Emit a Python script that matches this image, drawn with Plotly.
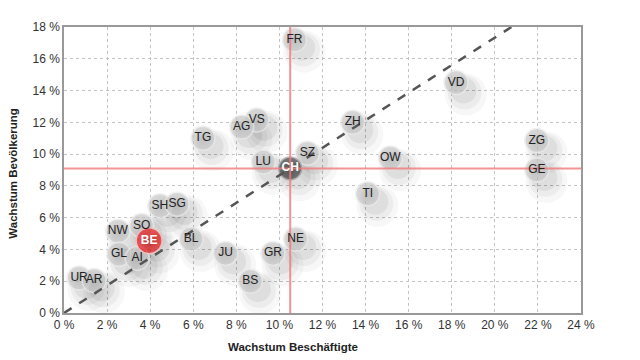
import plotly.graph_objects as go

cantons = ["FR", "VD", "ZH", "VS", "AG", "TG", "ZG", "SZ", "OW", "LU", "GE", "TI",
           "SH", "SG", "SO", "NW", "BL", "NE", "GL", "AI", "JU", "GR", "UR", "AR", "BS", "BE", "CH"]
beschaeftigte = [10.7, 18.2, 13.4, 8.95, 8.25, 6.45, 21.95, 11.3, 15.15, 9.25, 21.95, 14.1,
                 4.45, 5.25, 3.6, 2.5, 5.9, 10.75, 2.55, 3.4, 7.5, 9.7, 0.7, 1.4, 8.65, 3.95, 10.5]
bevoelkerung = [17.2, 14.5, 12.0, 12.15, 11.7, 11.0, 10.85, 10.05, 9.75, 9.5, 9.0, 7.5,
                6.75, 6.85, 5.5, 5.15, 4.65, 4.65, 3.7, 3.45, 3.75, 3.75, 2.2, 2.05, 2.0, 4.55, 9.1]

x_ticks = list(range(0, 25, 2))
y_ticks = list(range(0, 19, 2))

ch_i = cantons.index("CH")
ch_x, ch_y = beschaeftigte[ch_i], bevoelkerung[ch_i]

colors = []
edge_colors = []
line_colors = []
text_colors = []
sizes = []
labels = []
for c in cantons:
    if c == "BE":
        colors.append("#f02020"); edge_colors.append("#c00000"); line_colors.append("#f6c0c0")
        text_colors.append("white"); sizes.append(26); labels.append(f"<b>{c}</b>")
    elif c == "CH":
        colors.append("#444444"); edge_colors.append("#1e1e1e"); line_colors.append("#999999")
        text_colors.append("white"); sizes.append(23); labels.append(f"<b>{c}</b>")
    else:
        colors.append("#cacaca"); edge_colors.append("#b4b4b4"); line_colors.append("#eaeaea")
        text_colors.append("#222222"); sizes.append(24); labels.append(c)

FONT = "Liberation Sans, Arial"

fig = go.Figure()

# soft drop shadows, offset down-right
for sz, op, dx, dy in [(42, 0.03, 0.45, -0.75), (34, 0.045, 0.4, -0.62), (26, 0.06, 0.35, -0.5)]:
    fig.add_trace(go.Scatter(
        x=[v + dx for v in beschaeftigte], y=[v + dy for v in bevoelkerung],
        mode="markers", hoverinfo="skip", showlegend=False,
        marker=dict(size=sz, color=f"rgba(0,0,0,{op})", line=dict(width=0)),
        cliponaxis=False))

fig.add_trace(go.Scatter(
    x=beschaeftigte, y=bevoelkerung, mode="markers", showlegend=False,
    marker=dict(size=sizes, color=colors, line=dict(width=1.5, color=line_colors),
                gradient=dict(type="radial", color=edge_colors)),
    cliponaxis=False))

# diagonal through origin and CH
x_end = max(y_ticks) * ch_x / ch_y
fig.add_trace(go.Scatter(
    x=[0, x_end], y=[0, max(y_ticks)], mode="lines", showlegend=False, hoverinfo="skip",
    line=dict(color="#555555", width=2.5, dash="dash")))

# red reference lines
fig.add_trace(go.Scatter(
    x=[ch_x, ch_x], y=[0, max(y_ticks)], mode="lines", showlegend=False, hoverinfo="skip",
    line=dict(color="rgba(240,120,120,0.8)", width=2)))
fig.add_trace(go.Scatter(
    x=[0, max(x_ticks)], y=[ch_y, ch_y], mode="lines", showlegend=False, hoverinfo="skip",
    line=dict(color="rgba(240,120,120,0.8)", width=2)))

fig.add_trace(go.Scatter(
    x=beschaeftigte, y=bevoelkerung, mode="text", text=labels, showlegend=False,
    textposition="middle center",
    textfont=dict(family=FONT, size=12, color=text_colors),
    cliponaxis=False))

axis_common = dict(
    showgrid=True, gridcolor="#c4c4c4", griddash="dot", gridwidth=1,
    showline=True, linecolor="#999999", linewidth=1.5, mirror=True,
    zeroline=False, ticks="", tickfont=dict(family=FONT, size=12, color="#333333"),
)

fig.update_xaxes(range=[0, 24], tickvals=x_ticks, ticktext=[f"{t} %" for t in x_ticks], **axis_common)
fig.update_yaxes(range=[0, 18], tickvals=y_ticks, ticktext=[f"{t} %" for t in y_ticks], **axis_common)

fig.update_layout(
    width=640, height=360,
    margin=dict(l=56, r=67, t=13, b=55, pad=0),
    plot_bgcolor="white", paper_bgcolor="white",
    annotations=[
        dict(text="<b>Wachstum Beschäftigte</b>", xref="paper", yref="paper", x=0.443, y=-0.09,
             xanchor="center", yanchor="top", showarrow=False,
             font=dict(family=FONT, size=11.5, color="#222222")),
        dict(text="<b>Wachstum Bevölkerung</b>", xref="paper", yref="paper", x=-0.099, y=0.49,
             xanchor="center", yanchor="middle", showarrow=False, textangle=-90,
             font=dict(family=FONT, size=11.5, color="#222222")),
    ],
)

fig.write_html("out.html")
